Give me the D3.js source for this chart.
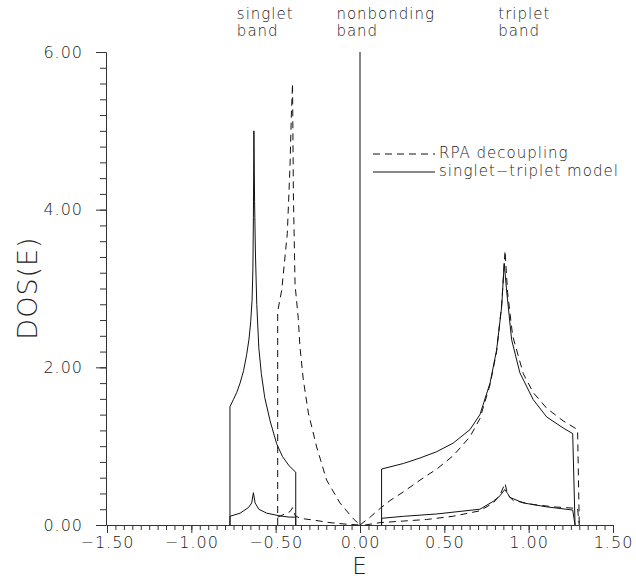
<!DOCTYPE html>
<html>
<head>
<meta charset="utf-8">
<script src="https://cdn.jsdelivr.net/npm/d3@7"></script>
<style>
  body { margin: 0; background: #fff; }
  svg text { font-family: 'DejaVu Sans', sans-serif; font-weight: 200; fill: #222; letter-spacing: 1px; }
  .curve { fill: none; stroke: #111; stroke-width: 1; }
  .dash { stroke-dasharray: 7,5; }
  .axis path, .axis line { stroke: #333; stroke-width: 1; }
</style>
</head>
<body>
<div id="chart"></div>
<script>
// band labels across the top
const bandLabels = [
    {E: -0.73, lines: ['singlet', 'band']},
    {E: -0.14, lines: ['nonbonding', 'band']},
    {E: 0.82, lines: ['triplet', 'band']}
];

const xMajor = [-1.5, -1.0, -0.5, 0.0, 0.5, 1.0, 1.5];
const yMajor = [0, 2, 4, 6];

// singlet-triplet model (solid)
const singletTotal = [
    [-0.771, 0], [-0.771, 1.50], [-0.751, 1.59], [-0.731, 1.68], [-0.711, 1.80], [-0.690, 1.96],
    [-0.672, 2.16], [-0.658, 2.36], [-0.648, 2.58], [-0.640, 2.85], [-0.635, 3.25], [-0.632, 3.9],
    [-0.629, 5.0], [-0.625, 4.1], [-0.620, 3.45], [-0.612, 2.8], [-0.600, 2.25], [-0.585, 1.92],
    [-0.565, 1.62], [-0.533, 1.32], [-0.494, 1.03], [-0.460, 0.87], [-0.420, 0.75], [-0.381, 0.67],
    [-0.381, 0]
];
const singletPart = [
    [-0.771, 0], [-0.771, 0.11], [-0.711, 0.15], [-0.662, 0.22], [-0.642, 0.28], [-0.632, 0.41],
    [-0.622, 0.28], [-0.600, 0.20], [-0.553, 0.15], [-0.474, 0.115], [-0.420, 0.10], [-0.381, 0.10],
    [-0.381, 0]
];
const nonbonding = [[0, 0], [0, 6]];
const tripletTotal = [
    [0.128, 0], [0.128, 0.71], [0.257, 0.78], [0.356, 0.85], [0.455, 0.93], [0.553, 1.04],
    [0.652, 1.21], [0.711, 1.40], [0.771, 1.80], [0.810, 2.22], [0.840, 2.77], [0.855, 3.32],
    [0.869, 2.98], [0.899, 2.35], [0.948, 1.93], [1.027, 1.59], [1.107, 1.37], [1.205, 1.23],
    [1.261, 1.16], [1.275, 0]
];
const tripletPart = [
    [0.128, 0], [0.128, 0.085], [0.257, 0.11], [0.455, 0.14], [0.711, 0.20], [0.790, 0.30],
    [0.830, 0.37], [0.858, 0.45], [0.875, 0.40], [0.889, 0.35], [0.968, 0.28], [1.107, 0.23],
    [1.261, 0.19], [1.275, 0]
];

// RPA decoupling (dashed)
const rpaSinglet = [
    [-0.488, 0], [-0.488, 2.71], [-0.464, 2.98], [-0.431, 3.7], [-0.415, 4.55], [-0.407, 5.2],
    [-0.400, 5.6], [-0.395, 4.2], [-0.385, 3.05], [-0.366, 2.62], [-0.356, 2.26], [-0.336, 1.84],
    [-0.306, 1.42], [-0.257, 0.99], [-0.198, 0.57], [-0.119, 0.28], [-0.040, 0.08], [0, 0]
];
const rpaSingletPart = [
    [-0.488, 0.10], [-0.445, 0.14], [-0.415, 0.17], [-0.400, 0.22], [-0.385, 0.12], [-0.356, 0.085],
    [-0.277, 0.063], [-0.178, 0.03], [-0.080, 0.01], [0, 0]
];
const rpaTriplet = [
    [0, 0], [0.060, 0.10], [0.119, 0.21], [0.178, 0.31], [0.257, 0.42], [0.356, 0.57], [0.455, 0.71],
    [0.553, 0.88], [0.652, 1.12], [0.711, 1.35], [0.771, 1.78], [0.810, 2.2], [0.840, 2.8],
    [0.860, 3.48], [0.875, 2.95], [0.905, 2.4], [0.968, 1.92], [1.027, 1.68], [1.107, 1.48],
    [1.205, 1.32], [1.290, 1.21], [1.300, 0]
];
const rpaTripletPart = [
    [0.03, 0], [0.119, 0.03], [0.257, 0.05], [0.395, 0.07], [0.550, 0.11], [0.711, 0.18],
    [0.790, 0.28], [0.830, 0.38], [0.860, 0.53], [0.875, 0.38], [0.909, 0.31], [1.027, 0.26],
    [1.150, 0.23], [1.290, 0.21], [1.300, 0]
];

const legendItems = [
    {label: 'RPA decoupling', dashed: true},
    {label: 'singlet\u2212triplet model', dashed: false}
];

const width = 636, height = 580;
const x = d3.scaleLinear().domain([-1.5, 1.5]).range([107, 613]);
const y = d3.scaleLinear().domain([0, 6]).range([525, 52]);

const svg = d3.select('#chart').append('svg')
    .attr('width', width)
    .attr('height', height);

// x axis: minor ticks every 0.05, labelled majors every 0.5
svg.append('g')
    .attr('class', 'axis')
    .attr('transform', 'translate(0,525)')
    .call(d3.axisBottom(x).tickValues(d3.range(-30, 31).map(i => i * 0.05)).tickSize(5).tickSizeOuter(0).tickFormat(''));
svg.append('g')
    .attr('class', 'axis')
    .attr('transform', 'translate(0,525)')
    .call(d3.axisBottom(x).tickValues(xMajor).tickSize(8).tickSizeOuter(0).tickPadding(4).tickFormat(d3.format('.2f')))
    .call(g => g.selectAll('text').style('font-size', '16px'));

// y axis: minor ticks every 0.2
svg.append('g')
    .attr('class', 'axis')
    .attr('transform', 'translate(106,0)')
    .call(d3.axisLeft(y).tickValues(d3.range(0, 31).map(i => i * 0.2)).tickSize(6).tickSizeOuter(0).tickFormat(''));
svg.append('g')
    .attr('class', 'axis')
    .attr('transform', 'translate(106,0)')
    .call(d3.axisLeft(y).tickValues(yMajor).tickSize(10).tickSizeOuter(0).tickPadding(13).tickFormat(d3.format('.2f')))
    .call(g => g.selectAll('text').style('font-size', '16px'));

// axis titles
svg.append('text')
    .attr('x', 360).attr('y', 574)
    .attr('text-anchor', 'middle')
    .style('font-size', '23px')
    .text('E');
svg.append('text')
    .attr('transform', 'translate(37,288)rotate(-90)')
    .attr('text-anchor', 'middle')
    .style('font-size', '27px')
    .text('DOS(E)');

// curves
const line = d3.line().x(d => x(d[0])).y(d => y(d[1]));
const solids = [singletTotal, singletPart, nonbonding, tripletTotal, tripletPart];
const dashes = [rpaSinglet, rpaSingletPart, rpaTriplet, rpaTripletPart];

svg.append('g').selectAll('path')
    .data(solids)
    .enter().append('path')
    .attr('class', 'curve')
    .attr('d', line);
svg.append('g').selectAll('path')
    .data(dashes)
    .enter().append('path')
    .attr('class', 'curve dash')
    .attr('d', line);

// band labels
bandLabels.forEach(b => {
    let t = svg.append('text')
        .attr('x', x(b.E))
        .attr('y', 19)
        .style('font-size', '15px');
    b.lines.forEach((s, i) => {
        t.append('tspan').attr('x', x(b.E)).attr('dy', i === 0 ? 0 : 17).text(s);
    });
});

// legend
const legend = svg.append('g').attr('transform', 'translate(373,154)');
legendItems.forEach((item, i) => {
    legend.append('line')
        .attr('class', item.dashed ? 'curve dash' : 'curve')
        .attr('x1', 0).attr('x2', 62)
        .attr('y1', i * 18).attr('y2', i * 18);
    legend.append('text')
        .attr('x', 66)
        .attr('y', i * 18 + 4)
        .style('font-size', '15px')
        .text(item.label);
});
</script>
</body>
</html>
